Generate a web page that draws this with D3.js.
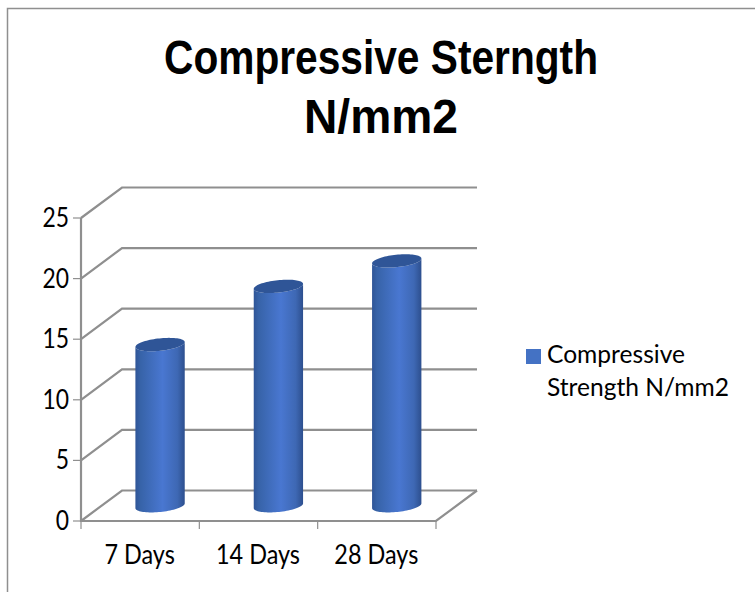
<!DOCTYPE html>
<html>
<head>
<meta charset="utf-8">
<script src="https://cdn.jsdelivr.net/npm/d3@7"></script>
<style>
html, body { margin: 0; padding: 0; background: #fff; overflow: hidden; }
text { font-family: Lato, "Open Sans", sans-serif; fill: #000; }
</style>
</head>
<body>
<script>
const categories = ['7 Days', '14 Days', '28 Days'];
const seriesName = 'Compressive Strength N/mm2';
const values = [13.3, 18.1, 20.2];
const yTicks = [0, 5, 10, 15, 20, 25];
const titleLines = ['Compressive Sterngth', 'N/mm2'];
const legendLines = ['Compressive', 'Strength N/mm2'];

const width = 755, height = 592;
const gray = '#8f8f8f';
// depth of the 3d box
const dx = 41, dy = -30.5;

const svg = d3.select('body').append('svg')
    .attr('width', width).attr('height', height);

const x = d3.scaleBand().domain(categories).range([81, 436]);
const y = d3.scaleLinear().domain([0, 25]).range([521, 218]);

// side shade of the cylinders
const grad = svg.append('defs').append('linearGradient').attr('id', 'cyl');
[[0, '#2f5597'], [0.1, '#3763a8'], [0.55, '#4977d1'], [0.85, '#3e68b4'], [1, '#2d4f8e']].forEach(d => {
    grad.append('stop').attr('offset', d[0]).attr('stop-color', d[1]);
});

// chart frame, only top and left show
svg.append('path')
    .attr('d', 'M7.5,592V8.5H755')
    .attr('fill', 'none').attr('stroke', gray).attr('stroke-width', 1.5);

// squeeze text to a share of its natural width
function squeeze(sel, k) {
    sel.attr('lengthAdjust', 'spacingAndGlyphs')
        .attr('textLength', function() { return this.getComputedTextLength() * k; });
}

// titles
svg.selectAll('.title').data(titleLines).join('text')
    .attr('class', 'title')
    .attr('x', 381)
    .attr('y', (d, i) => 74 + i * 59)
    .attr('text-anchor', 'middle')
    .attr('font-size', 49)
    .attr('font-weight', 700)
    .style('font-family', '"Liberation Sans", sans-serif')
    .attr('textLength', (d, i) => i ? 154 : 434)
    .attr('lengthAdjust', 'spacingAndGlyphs')
    .text(d => d);

// gridlines: wall plus side wall
const grid = svg.append('g').attr('fill', 'none').attr('stroke', gray).attr('stroke-width', 2.2);
yTicks.forEach(t => {
    grid.append('path').attr('d', d3.line()([
        [x.range()[0], y(t)],
        [x.range()[0] + dx, y(t) + dy],
        [x.range()[1] + dx, y(t) + dy]
    ]));
});
// floor right edge and the two axes
grid.append('path').attr('d', d3.line()([
    [x.range()[0], y(25)], [x.range()[0], y(0)], [x.range()[1], y(0)], [x.range()[1] + dx, y(0) + dy]
]));

// ticks
const ticks = svg.append('g').attr('stroke', gray).attr('stroke-width', 1.2);
yTicks.forEach(t => {
    ticks.append('line').attr('x1', x.range()[0] - 8).attr('x2', x.range()[0])
        .attr('y1', y(t)).attr('y2', y(t));
});
x.domain().concat(['end']).forEach((c, i) => {
    const px = x.range()[0] + i * x.step();
    ticks.append('line').attr('x1', px).attr('x2', px).attr('y1', y(0)).attr('y2', y(0) + 8);
});

// y labels
svg.selectAll('.ylab').data(yTicks).join('text')
    .attr('class', 'ylab')
    .attr('x', 69)
    .attr('y', d => y(d) + 9)
    .attr('text-anchor', 'end')
    .attr('font-size', 26)
    .text(d => d)
    .call(squeeze, 0.88);

// x labels
svg.selectAll('.xlab').data(categories).join('text')
    .attr('class', 'xlab')
    .attr('x', d => x(d) + x.bandwidth() / 2 - 0.5)
    .attr('y', 564)
    .attr('text-anchor', 'middle')
    .attr('font-size', 26)
    .text(d => d)
    .call(squeeze, 0.9);

// cylinders, outline sampled from the tilted ellipse
const rx = 24.8, ry = 6.2, tilt = -6 * Math.PI / 180;
const cx = d => x(d) + x.bandwidth() / 2 + dx / 2 - 0.6;
const base = y(0) + dy / 2;
const rise = v => y(0) - y(v);
const rim = t => [
    rx * Math.cos(t) * Math.cos(tilt) - ry * Math.sin(t) * Math.sin(tilt),
    rx * Math.cos(t) * Math.sin(tilt) + ry * Math.sin(t) * Math.cos(tilt)
];
const lower = d3.range(0, 41).map(i => rim(i / 40 * Math.PI));
const whole = d3.range(0, 80).map(i => rim(i / 40 * Math.PI));
const line = d3.line();

const bars = svg.selectAll('.bar').data(categories.map((c, i) => ({c, v: values[i]}))).join('g')
    .attr('class', 'bar')
    .attr('transform', d => `translate(${cx(d.c)},${base})`);
bars.append('path')
    .attr('fill', 'url(#cyl)')
    .attr('d', d => line(lower.concat(lower.slice().reverse().map(p => [p[0], p[1] - rise(d.v)]))) + 'Z');
bars.append('path')
    .attr('transform', d => `translate(0,${-rise(d.v)})`)
    .attr('fill', '#2f5597')
    .attr('d', line(whole) + 'Z');

// legend
svg.append('rect').attr('x', 526).attr('y', 349).attr('width', 15).attr('height', 15).attr('fill', '#4472c4');
svg.selectAll('.leg').data(legendLines).join('text')
    .attr('class', 'leg')
    .attr('x', 547)
    .attr('y', (d, i) => 363 + i * 33)
    .attr('font-size', 25)
    .attr('textLength', (d, i) => i ? 182 : 138)
    .attr('lengthAdjust', 'spacingAndGlyphs')
    .text(d => d);

svg.append('title').text(seriesName);
</script>
</body>
</html>
